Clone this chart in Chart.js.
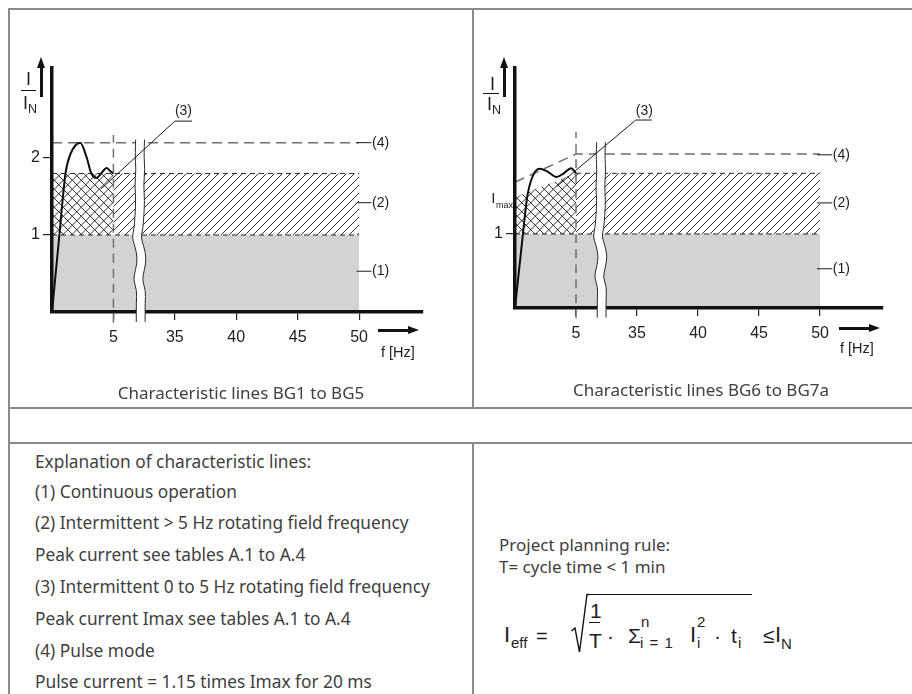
<!DOCTYPE html>
<html>
<head>
<meta charset="utf-8">
<script src="https://cdn.jsdelivr.net/npm/chart.js@4/dist/chart.umd.min.js"></script>
<style>
  html, body { margin: 0; padding: 0; background: #fff; }
  body { width: 912px; height: 694px; position: relative; overflow: hidden; }
  .ln { position: absolute; background: #8a8a8a; }
  .t { position: absolute; white-space: nowrap; font-family: "Noto Sans", "Open Sans", sans-serif; color: #404040; font-size: 17.3px; }
  .n { position: absolute; white-space: nowrap; font-family: "Liberation Sans", Arial, sans-serif; color: #1e1e1e; line-height: 1; }
  canvas { position: absolute; }
  .arr { position: absolute; background: #111; }
  .tri-up { position: absolute; width: 0; height: 0; border-left: 4px solid transparent; border-right: 4px solid transparent; border-bottom: 11px solid #111; }
  .tri-right { position: absolute; width: 0; height: 0; border-top: 4px solid transparent; border-bottom: 4px solid transparent; border-left: 11px solid #111; }
</style>
</head>
<body>
<!-- table frame -->
<div class="ln" style="left:8px;top:8px;width:904px;height:2px"></div>
<div class="ln" style="left:8px;top:8px;width:2px;height:686px"></div>
<div class="ln" style="left:472px;top:8px;width:2px;height:400px"></div>
<div class="ln" style="left:8px;top:407px;width:904px;height:2px"></div>
<div class="ln" style="left:8px;top:442px;width:904px;height:2px"></div>
<div class="ln" style="left:472px;top:442px;width:2px;height:252px"></div>

<canvas id="cL" width="472" height="400" style="left:0;top:0"></canvas>
<canvas id="cR" width="440" height="400" style="left:472px;top:0"></canvas>

<!-- axis titles and arrows, left -->
<div class="n" style="left:26px;top:70px;font-size:18px">I</div>
<div class="ln" style="left:21px;top:90px;width:15px;height:1.3px;background:#111"></div>
<div class="n" style="left:23px;top:94px;font-size:18px">I<span style="font-size:12.5px;position:relative;top:4px">N</span></div>
<div class="arr" style="left:40px;top:66px;width:2.5px;height:31px"></div>
<div class="tri-up" style="left:37.3px;top:57px"></div>
<div class="arr" style="left:378px;top:329px;width:32px;height:2.5px"></div>
<div class="tri-right" style="left:408px;top:326.3px"></div>
<div class="n" style="left:381px;top:345px;font-size:14.5px">f [Hz]</div>

<!-- axis titles and arrows, right -->
<div class="n" style="left:490px;top:75px;font-size:18px">I</div>
<div class="ln" style="left:483px;top:93px;width:16px;height:1.3px;background:#111"></div>
<div class="n" style="left:487px;top:95px;font-size:18px">I<span style="font-size:12.5px;position:relative;top:4px">N</span></div>
<div class="arr" style="left:503px;top:66px;width:2.5px;height:31px"></div>
<div class="tri-up" style="left:500.3px;top:57px"></div>
<div class="arr" style="left:839px;top:327px;width:32px;height:2.5px"></div>
<div class="tri-right" style="left:869px;top:324.3px"></div>
<div class="n" style="left:840px;top:341px;font-size:14.5px">f [Hz]</div>

<!-- captions -->
<div class="t" style="left:241px;top:381px;font-size:17px;transform:translateX(-50%)">Characteristic lines BG1 to BG5</div>
<div class="t" style="left:701px;top:378px;font-size:17px;transform:translateX(-50%)">Characteristic lines BG6 to BG7a</div>

<!-- explanations -->
<div class="t" style="left:35px;top:450px">Explanation of characteristic lines:</div>
<div class="t" style="left:35px;top:480px">(1) Continuous operation</div>
<div class="t" style="left:35px;top:511px">(2) Intermittent &gt; 5 Hz rotating field frequency</div>
<div class="t" style="left:35px;top:543px">Peak current see tables A.1 to A.4</div>
<div class="t" style="left:35px;top:575px">(3) Intermittent 0 to 5 Hz rotating field frequency</div>
<div class="t" style="left:35px;top:607px">Peak current Imax see tables A.1 to A.4</div>
<div class="t" style="left:35px;top:639px">(4) Pulse mode</div>
<div class="t" style="left:35px;top:670px">Pulse current = 1.15 times Imax for 20 ms</div>

<div class="t" style="left:499px;top:533px;font-size:17px">Project planning rule:</div>
<div class="t" style="left:499px;top:555px;font-size:17px">T= cycle time &lt; 1 min</div>

<!-- formula -->
<div class="n" style="left:504px;top:624px;font-size:22px">I</div>
<div class="n" style="left:511px;top:635px;font-size:15px">eff</div>
<div class="n" style="left:536px;top:626px;font-size:20px">=</div>
<svg style="position:absolute;left:570px;top:593px" width="20" height="62"><polyline points="1.5,38 5,35 9.5,59 17,1.5 19,1.5" fill="none" stroke="#111" stroke-width="1.4"/></svg>
<div class="ln" style="left:588px;top:593.8px;width:164px;height:1.4px;background:#111"></div>
<div class="n" style="left:590px;top:600px;font-size:21px">1</div>
<div class="ln" style="left:589px;top:621.5px;width:11px;height:1.2px;background:#111"></div>
<div class="n" style="left:589px;top:630px;font-size:21px">T</div>
<div class="n" style="left:607px;top:625px;font-size:21px">·</div>
<div class="n" style="left:628px;top:625px;font-size:21px">Σ</div>
<div class="n" style="left:641px;top:614px;font-size:15px">n</div>
<div class="n" style="left:640px;top:635px;font-size:15px;word-spacing:2px">i = 1</div>
<div class="n" style="left:690px;top:624px;font-size:22px">I</div>
<div class="n" style="left:697px;top:614px;font-size:15px">2</div>
<div class="n" style="left:697px;top:635px;font-size:15px">i</div>
<div class="n" style="left:714px;top:625px;font-size:21px">·</div>
<div class="n" style="left:731px;top:625px;font-size:21px">t</div>
<div class="n" style="left:738px;top:635px;font-size:15px">i</div>
<div class="n" style="left:763px;top:625px;font-size:21px">≤</div>
<div class="n" style="left:775px;top:624px;font-size:22px">I</div>
<div class="n" style="left:781px;top:636px;font-size:15px">N</div>

<script>
// ---------------- data ----------------
const freqTicksHz = [5, 35, 40, 45, 50];          // x tick labels
const yTicksLeft = [1, 2];
const yTicksRight = [1];
const rangeHz = [0, 50];
const rangeIntermHz = [5, 50];
const rangeLowHz = [0, 5];
const contLevel = 1.0;                              // (1) continuous operation
const intermLeft = 1.8;                             // (2) intermittent > 5 Hz (BG1..BG5)
const intermRight = 1.82;                           // (2) intermittent > 5 Hz (BG6..BG7a)
const pulseLeft = 2.2;                              // (4) pulse mode (BG1..BG5)
const pulseRightHz = [0, 5, 50];                    // (4) pulse mode (BG6..BG7a)
const pulseRightVal = [1.7, 2.08, 2.08];
const crossRightHz = [0, 1, 2, 3, 4, 5];            // (3) Imax area top (BG6..BG7a)
const crossRightVal = [1.5, 1.56, 1.63, 1.69, 1.76, 1.82];
const curveLeftHz = [0, 0.6, 1.1, 1.5, 2.3, 2.8, 3.2, 3.6, 4.0, 4.45, 4.75, 5.0];
const curveLeftVal = [0, 1.0, 1.8, 2.05, 2.2, 2.02, 1.8, 1.74, 1.8, 1.87, 1.83, 1.8];
const curveRightHz = [0, 0.65, 1.0, 1.4, 2.0, 2.6, 3.4, 4.0, 4.6, 5.0];
const curveRightVal = [0, 1.0, 1.5, 1.76, 1.88, 1.85, 1.77, 1.82, 1.89, 1.82];
const markerHz = 5;                                 // 5 Hz boundary
// axis break between 5 Hz and 30 Hz; wavy break symbol profile
const breakY = [2.24, 2.05, 1.85, 1.65, 1.45, 1.25, 1.08, 0.97, 0.85, 0.7, 0.55, 0.42, 0.28, 0.12, -0.13];
const breakDx = [0.05, 0.0, 0.08, -0.02, 0.06, 0.0, -0.08, -0.25, 0.0, 0.2, 0.05, -0.15, 0.15, 0.1, 0.1];

// axis mapping with break: 0..5 Hz linear, then 30 Hz continues at 5
const u = f => (f <= 5 ? f : f - 25);
const pts = (xs, ys) => xs.map((f, i) => ({ x: u(f), y: ys[i] }));
const flat = (r, v) => r.map(f => ({ x: u(f), y: v }));

// -------------- patterns --------------
function makePattern(size, cross) {
  const c = document.createElement('canvas');
  c.width = size; c.height = size;
  const g = c.getContext('2d');
  g.fillStyle = '#fff'; g.fillRect(0, 0, size, size);
  g.strokeStyle = '#1a1a1a'; g.lineWidth = 0.9;
  const diag = (x0, y0, x1, y1) => { g.beginPath(); g.moveTo(x0, y0); g.lineTo(x1, y1); g.stroke(); };
  for (const o of [-size, 0, size]) {
    diag(o, size, o + size, 0);
    if (cross) diag(o, 0, o + size, size);
  }
  return g.createPattern(c, 'repeat');
}
const diagPat = makePattern(8, false);
const crossPat = makePattern(9.5, true);

const AXF = '"Liberation Sans", Arial, sans-serif';
const GRAY = '#d2d3d5';

// -------------- plugins --------------
function breakPlugin(breakU, gapU) {
  return {
    id: 'axisBreak',
    afterDraw(chart) {
      const { ctx, scales: { x, y } } = chart;
      const L = breakY.map((v, i) => [x.getPixelForValue(breakU + breakDx[i]), y.getPixelForValue(v)]);
      const R = breakY.map((v, i) => [x.getPixelForValue(breakU + gapU + breakDx[i]), y.getPixelForValue(v)]);
      const smooth = (p, first) => {
        if (first) ctx.moveTo(p[0][0], p[0][1]); else ctx.lineTo(p[0][0], p[0][1]);
        for (let i = 1; i < p.length - 1; i++) {
          const mx = (p[i][0] + p[i + 1][0]) / 2, my = (p[i][1] + p[i + 1][1]) / 2;
          ctx.quadraticCurveTo(p[i][0], p[i][1], mx, my);
        }
        ctx.lineTo(p[p.length - 1][0], p[p.length - 1][1]);
      };
      ctx.save();
      ctx.beginPath();
      smooth(L, true);
      smooth(R.slice().reverse(), false);
      ctx.closePath();
      ctx.fillStyle = '#fff';
      ctx.fill();
      ctx.strokeStyle = '#2a2a2a'; ctx.lineWidth = 1;
      ctx.beginPath(); smooth(L, true); ctx.stroke();
      ctx.beginPath(); smooth(R, true); ctx.stroke();
      ctx.restore();
    }
  };
}

function notesPlugin(items) {
  return {
    id: 'notes',
    afterDraw(chart) {
      const { ctx, scales: { x, y } } = chart;
      ctx.save();
      items.forEach(it => {
        if (it.path) {
          ctx.beginPath();
          it.path.forEach((p, i) => {
            const px = x.getPixelForValue(p[0]), py = y.getPixelForValue(p[1]);
            if (i) ctx.lineTo(px, py); else ctx.moveTo(px, py);
          });
          ctx.strokeStyle = '#1a1a1a'; ctx.lineWidth = 1; ctx.stroke();
        }
        if (it.text) {
          ctx.font = (it.size || 14) + 'px ' + AXF;
          ctx.fillStyle = '#1e1e1e';
          ctx.textAlign = it.align || 'left';
          ctx.textBaseline = 'middle';
          ctx.fillText(it.text, x.getPixelForValue(it.at[0]), y.getPixelForValue(it.at[1]));
        }
      });
      ctx.restore();
    }
  };
}

// -------------- chart builder --------------
function build(id, o) {
  const ds = [];
  const base = { pointRadius: 0, borderWidth: 0, fill: false, tension: 0 };
  ds.push(Object.assign({}, base, { label: '(3) curve', data: pts(o.curveHz, o.curveVal), borderColor: '#0d0d0d', borderWidth: 2, cubicInterpolationMode: 'monotone', order: 1 }));
  ds.push(Object.assign({}, base, { label: '5 Hz', data: [{ x: u(markerHz), y: -0.14 }, { x: u(markerHz), y: o.markerTop }], borderColor: '#707070', borderWidth: 1.5, borderDash: [9, 6], clip: false, order: 2 }));
  ds.push(Object.assign({}, base, { label: '(4) pulse', data: o.pulse, borderColor: '#6e6e6e', borderWidth: 1.5, borderDash: [10, 6], order: 3 }));
  ds.push(Object.assign({}, base, { label: 'top (2)', data: o.intermEdge, borderColor: '#2a2a2a', borderWidth: 1, borderDash: [5, 4], order: 4 }));
  ds.push(Object.assign({}, base, { label: 'top (1)', data: flat(rangeHz, contLevel), borderColor: '#2a2a2a', borderWidth: 1, borderDash: [5, 4], order: 4 }));
  ds.push(Object.assign({}, base, { label: '(3) area', data: o.cross, fill: { value: contLevel }, backgroundColor: crossPat, order: 6 }));
  ds.push(Object.assign({}, base, { label: '(2) area', data: flat(rangeIntermHz, o.interm), fill: { value: contLevel }, backgroundColor: diagPat, order: 7 }));
  ds.push(Object.assign({}, base, { label: '(1) area', data: flat(rangeHz, contLevel), fill: 'origin', backgroundColor: GRAY, order: 8 }));

  return new Chart(document.getElementById(id), {
    type: 'line',
    data: { datasets: ds },
    options: {
      responsive: false, animation: false, events: [],
      layout: { padding: o.pad },
      plugins: { legend: { display: false }, tooltip: { enabled: false } },
      scales: {
        x: {
          type: 'linear', min: 0, max: o.xMax,
          afterBuildTicks: s => { s.ticks = freqTicksHz.map(f => ({ value: u(f) })); },
          afterFit: s => { s.height = 40; },
          ticks: { callback: (v, i) => String(freqTicksHz[i]), font: { family: AXF, size: 16 }, color: '#1e1e1e', padding: 8, maxRotation: 0, autoSkip: false },
          grid: { drawOnChartArea: false, drawTicks: true, tickLength: 8, color: '#222', lineWidth: 1.2 },
          border: { display: true, width: 3.5, color: '#111', z: 1 }
        },
        y: {
          type: 'linear', min: 0, max: o.yMax,
          afterBuildTicks: s => { s.ticks = o.yTicks.map(v => ({ value: v })); },
          afterFit: s => { s.width = 30; },
          ticks: { callback: v => String(v), font: { family: AXF, size: 16 }, color: '#1e1e1e', padding: 3 },
          grid: { drawOnChartArea: false, drawTicks: true, tickLength: 9, color: '#222', lineWidth: 1.2 },
          border: { display: true, width: 3.5, color: '#111', z: 1 }
        }
      }
    },
    plugins: [breakPlugin(o.breakU, 0.72), notesPlugin(o.notes)]
  });
}

build('cL', {
  pad: { left: 22, right: 49, top: 68, bottom: 48 },
  xMax: 30.2, yMax: 3.17, yTicks: yTicksLeft, markerTop: 2.3, breakU: 6.76,
  curveHz: curveLeftHz, curveVal: curveLeftVal,
  pulse: flat(rangeHz, pulseLeft),
  intermEdge: flat(rangeHz, intermLeft),
  interm: intermLeft,
  cross: flat(rangeLowHz, intermLeft),
  notes: [
    { path: [[24.8, 2.2], [26.0, 2.2]], text: '(4)', at: [26.05, 2.2] },
    { path: [[24.8, 1.42], [26.0, 1.42]], text: '(2)', at: [26.05, 1.42] },
    { path: [[24.8, 0.53], [26.0, 0.53]], text: '(1)', at: [26.05, 0.53] },
    { path: [[4.0, 1.6], [10.0, 2.48], [11.4, 2.48]], text: '(3)', at: [10.7, 2.61], align: 'center' }
  ]
});

build('cR', {
  pad: { left: 13, right: 29, top: 68, bottom: 52 },
  xMax: 30.16, yMax: 3.243, yTicks: yTicksRight, markerTop: 2.38, breakU: 6.64,
  curveHz: curveRightHz, curveVal: curveRightVal,
  pulse: pts(pulseRightHz, pulseRightVal),
  intermEdge: flat(rangeIntermHz, intermRight),
  interm: intermRight,
  cross: pts(crossRightHz, crossRightVal),
  notes: [
    { path: [[24.75, 2.07], [26.0, 2.07]], text: '(4)', at: [26.05, 2.07] },
    { path: [[24.75, 1.42], [26.0, 1.42]], text: '(2)', at: [26.05, 1.42] },
    { path: [[24.75, 0.53], [26.0, 0.53]], text: '(1)', at: [26.05, 0.53] },
    { path: [[3.4, 1.64], [9.9, 2.54], [11.2, 2.54]], text: '(3)', at: [10.6, 2.66], align: 'center' },
    { text: 'I', at: [-1.95, 1.47], align: 'left', size: 15 },
    { text: 'max', at: [-1.55, 1.39], align: 'left', size: 9 }
  ]
});
</script>
</body>
</html>
